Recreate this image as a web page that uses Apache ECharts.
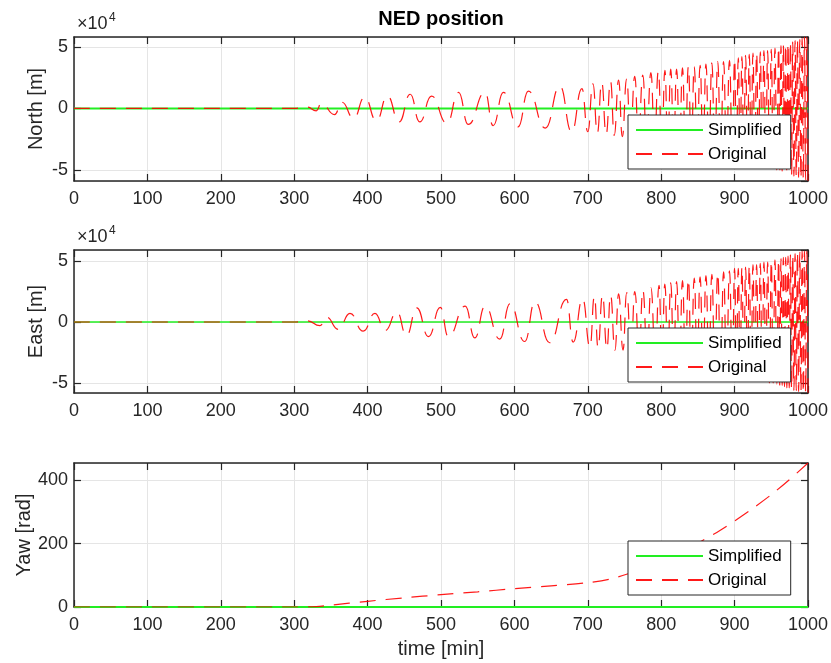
<!DOCTYPE html>
<html><head><meta charset="utf-8">
<script src="https://cdn.jsdelivr.net/npm/echarts@6/dist/echarts.min.js"></script>
<style>html,body{margin:0;padding:0;background:#fff}#c{width:831px;height:663px}</style>
</head><body><div id="c"></div><script>
// ---- data (time in min; North/East in units of 1e4 m; Yaw in rad) ----
const simplifiedPoints = [[0, 0], [1000, 0]];

const northPoints = [
  [0,0],[300,0],[318,0.1],[330,-0.2],[337,0.4],[355,-0.5],[365,0.5],[381,-0.8],[396,0.9],[412,-1.0],
  [427,1.0],[443,-1.1],[458,1.15],[471,-1.1],[487,1.0],[508,-1.2],[524,1.3],[537,-1.3],[560,1.3],[571,-1.4],
  [585,1.3],[605,-1.5],[619,1.4],[642,-1.6],[662,1.8],[678,-1.9],[692,1.6],[700,-1.9],
  [707,2.0],[713,-2.0],[719,2.1],[725,-2.1],[731,2.2],[736,-2.2],[742,2.3],[747,-2.3],[753,2.4],[758,-2.3],
  [764,2.6],[769,-2.5],[775,2.7],[780,-2.6],[786,2.9],[791,-2.8],[796,3.0],
  [801,-3.0],[805,3.1],[809,-3.0],[813,3.2],[817,-3.1],[821,3.2],[825,-3.2],[829,3.3],[833,-3.3],[837,3.4],
  [841,-3.3],[845,3.4],[849,-3.4],[853,3.5],[857,-3.5],[861,3.6],[865,-3.6],[869,3.7],[873,-3.6],[877,3.8],
  [881,-3.7],[885,3.8],[889,-3.8],[893,3.9],[897,-3.9],
  [900,4.0],[902.5,-4.0],[905,4.1],[907.5,-4.0],[910,4.2],[912.5,-4.1],[915,4.3],[917.5,-4.2],[920,4.4],[922.5,-4.3],
  [925,4.5],[927.5,-4.4],[930,4.5],[932.5,-4.5],[935,4.6],[937.5,-4.6],[940,4.7],[942.5,-4.7],[945,4.7],[947.5,-4.8],
  [950,4.8],[952.5,-4.9],[955,4.9],[957.5,-5.0],[960,5.0],
  [961.6,-5.0],[963.2,5.1],[964.8,-5.1],[966.4,5.1],[968,-5.2],[969.6,5.2],[971.2,-5.3],[972.8,5.3],[974.4,-5.3],[976,5.4],
  [977.6,-5.4],[979.2,5.4],[980.8,-5.5],[982.4,5.5],[984,-5.5],[985.6,5.6],[987.2,-5.6],[988.8,5.6],[990.4,-5.7],[992,5.7],
  [993.6,-5.7],[995.2,5.8],[996.8,-5.8],[998.4,5.8],[1000,-5.9]
];

const eastPoints = [
  [0,0],[300,0],[318,0.1],[335,-0.3],[344,0.4],[360,-0.6],[376,0.7],[394,-0.75],[410,0.7],[424,-0.7],
  [440,0.8],[453,-1.1],[467,1.15],[483,-1.2],[499,1.2],[510,-1.2],[533,1.3],[546,-1.3],[560,1.3],[580,-1.4],
  [594,1.5],[614,-1.6],[628,1.65],[648,-1.7],[671,1.85],[680,-1.65],[693,1.9],[703,-2.05],
  [709,2.1],[714,-2.1],[720,2.2],[726,-2.2],[731,2.2],[737,-2.3],[742,2.3],[748,-2.3],[753,2.4],[759,-2.4],
  [764,2.5],[770,-2.5],[775,2.6],[781,-2.7],[786,2.8],[792,-2.9],[797,3.0],
  [801,-3.0],[805,3.1],[809,-3.1],[813,3.2],[817,-3.2],[821,3.3],[825,-3.3],[829,3.4],[833,-3.4],[837,3.5],
  [841,-3.5],[845,3.6],[849,-3.6],[853,3.7],[857,-3.7],[861,3.8],[865,-3.8],[869,3.9],[873,-3.9],[877,4.0],
  [881,-4.0],[885,4.1],[889,-4.1],[893,4.2],[897,-4.3],
  [900,4.4],[902.5,-4.3],[905,4.4],[907.5,-4.4],[910,4.5],[912.5,-4.5],[915,4.5],[917.5,-4.6],[920,4.6],[922.5,-4.6],
  [925,4.7],[927.5,-4.7],[930,4.7],[932.5,-4.8],[935,4.8],[937.5,-4.8],[940,4.9],[942.5,-4.9],[945,4.9],[947.5,-5.0],
  [950,5.0],[952.5,-5.0],[955,5.1],[957.5,-5.1],[960,5.1],
  [961.6,-5.2],[963.2,5.2],[964.8,-5.2],[966.4,5.3],[968,-5.3],[969.6,5.3],[971.2,-5.4],[972.8,5.4],[974.4,-5.4],[976,5.5],
  [977.6,-5.5],[979.2,5.5],[980.8,-5.6],[982.4,5.6],[984,-5.6],[985.6,5.7],[987.2,-5.7],[988.8,5.7],[990.4,-5.7],[992,5.8],
  [993.6,-5.8],[995.2,5.8],[996.8,-5.8],[998.4,5.8],[1000,-5.8]
];

const yawPoints = [
  [0,0],[300,0],[330,1],[350,6],[400,18],[450,29],[500,39],[550,48],[600,58],[650,67],[700,77],
  [730,88],[755,105],[780,126],[800,146],[830,177],[857,211],[880,242],[900,272],[925,312],[950,355],[975,403],[1000,455]
];

const panelNames = ['North [m]', 'East [m]', 'Yaw [rad]'];
const panelRanges = [[-5.9, 5.8], [-5.82, 5.9], [0, 455]];
const originalSeries = [northPoints, eastPoints, yawPoints];
const legendNames = ['Simplified', 'Original'];
const titleText = 'NED position';
const xName = 'time [min]';

// ---- layout / style ----
const FONT = '"Liberation Sans", Arial, Helvetica, sans-serif';
const INK = '#262626';
const gridTops = [37, 250, 463];
const gridHeights = [144, 143, 144];
const nameGaps = [28, 28, 40];
const GL = 74, GW = 734;

const grid = [], xAxis = [], yAxis = [], series = [], legend = [];
for (let i = 0; i < 3; i++) {
  grid.push({ left: GL, top: gridTops[i], width: GW, height: gridHeights[i], outerBoundsMode: 'none', containLabel: false });
  const common = {
    type: 'value', gridIndex: i, min: 0, max: 1000, interval: 100,
    axisLine: { show: true, onZero: false, lineStyle: { color: INK, width: 1.5 } },
    axisTick: { show: true, inside: true, length: 7, lineStyle: { color: INK, width: 1.2 } }
  };
  xAxis.push(Object.assign({}, common, {
    position: 'bottom',
    axisLabel: { show: true, fontSize: 18, color: INK, fontFamily: FONT, margin: 9, formatter: v => String(v) },
    splitLine: { show: true, lineStyle: { color: '#e5e5e5', width: 1 } },
    name: i === 2 ? xName : '', nameLocation: 'middle', nameGap: 32, nameMoveOverlap: false,
    nameTextStyle: { fontSize: 20, color: INK, fontFamily: FONT }
  }));
  xAxis.push(Object.assign({}, common, {
    position: 'top', axisLabel: { show: false }, splitLine: { show: false }
  }));
  const yc = {
    type: 'value', gridIndex: i, min: panelRanges[i][0], max: panelRanges[i][1], splitNumber: 2,
    axisLine: { show: true, onZero: false, lineStyle: { color: INK, width: 1.5 } },
    axisTick: { show: true, inside: true, length: 7, lineStyle: { color: INK, width: 1.2 } }
  };
  yAxis.push(Object.assign({}, yc, {
    position: 'left',
    axisLabel: { show: true, fontSize: 18, color: INK, fontFamily: FONT, margin: 6, showMinLabel: i === 2, showMaxLabel: false, formatter: v => String(v) },
    splitLine: { show: true, lineStyle: { color: '#e5e5e5', width: 1 } },
    name: panelNames[i], nameLocation: 'middle', nameGap: nameGaps[i], nameMoveOverlap: false,
    nameTextStyle: { fontSize: 20, color: INK, fontFamily: FONT }
  }));
  yAxis.push(Object.assign({}, yc, {
    position: 'right', axisLabel: { show: false }, splitLine: { show: false }
  }));

  series.push({
    name: legendNames[0], type: 'line', xAxisIndex: 2 * i, yAxisIndex: 2 * i,
    data: simplifiedPoints, symbol: 'none', showSymbol: false, z: 2,
    lineStyle: { color: '#22ee22', width: i === 1 ? 1.5 : 2 }, itemStyle: { color: '#22ee22' }
  });
  series.push({
    name: legendNames[1], type: 'line', xAxisIndex: 2 * i, yAxisIndex: 2 * i,
    data: originalSeries[i], symbol: 'none', showSymbol: false, z: 3,
    smooth: i === 2 ? 0.3 : 0.5, smoothMonotone: i === 2 ? undefined : 'x',
    lineStyle: { color: '#ff0000', width: 1.2, type: [16, 10], opacity: 0.9 }, itemStyle: { color: '#ff0000' }
  });

  legend.push({
    data: legendNames, orient: 'vertical', left: 628, top: gridTops[i] + 78,
    itemWidth: 67, itemHeight: 14, itemGap: 4, padding: [5, 9, 5, 7],
    backgroundColor: '#fff', borderColor: INK, borderWidth: 1, borderRadius: 0,
    selectedMode: false,
    itemStyle: { opacity: 0, borderWidth: 0 },
    textStyle: { fontSize: 17, color: '#000', fontFamily: FONT, lineHeight: 20 }
  });
}

const graphic = [
  { type: 'text', x: 441, y: 9, style: { text: titleText, align: 'center', verticalAlign: 'top', fontSize: 20, fontWeight: 'bold', fontFamily: FONT, fill: '#000' } }
];
[0, 1].forEach(i => {
  const dy = gridTops[i] - gridTops[0];
  graphic.push({ type: 'text', x: 77, y: 15 + dy, style: { text: '\u00d710', align: 'left', verticalAlign: 'top', fontSize: 18, fontFamily: FONT, fill: INK } });
  graphic.push({ type: 'text', x: 109, y: 12 + dy, style: { text: '4', align: 'left', verticalAlign: 'top', fontSize: 12, fontFamily: FONT, fill: INK } });
});

const chart = echarts.init(document.getElementById('c'), null, { renderer: 'canvas' });
chart.setOption({
  animation: false, backgroundColor: '#fff',
  grid, xAxis, yAxis, series, legend, graphic
});
</script></body></html>
